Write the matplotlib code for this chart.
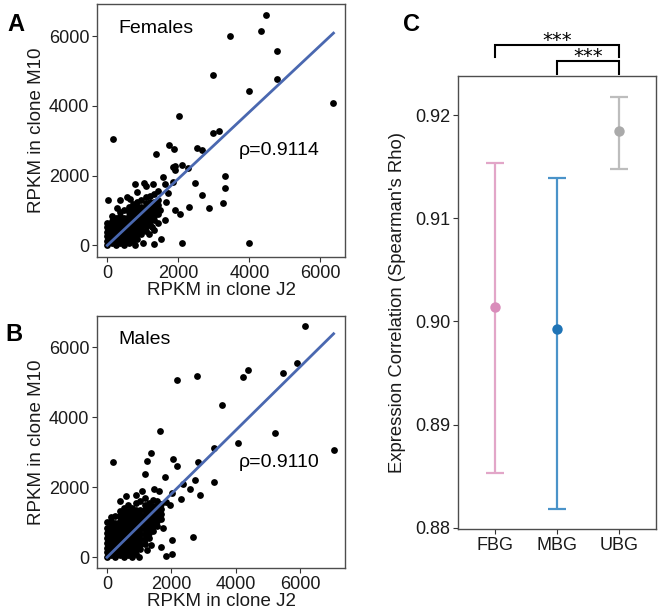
import numpy as np
import matplotlib
matplotlib.use("Agg")
import matplotlib.pyplot as plt

plt.rcParams["font.family"] = ["Liberation Sans", "DejaVu Sans"]

# --- Panel A: females, scattered genes (RPKM J2, RPKM M10) ---
fem_x = [4460, 3450, 4330, 4790, 4790, 3980, 2990, 2030, 150, 2990, 3150, 1370,
         1750, 1880, 2520, 2680, 1920, 2090, 1920, 2270, 2470, 3320, 3320, 2670,
         3270, 2860, 2300, 1920, 2050, 2090, 4000, 1520, 1310, 1010, 780, 1620,
         1270, 1470, 1320, 30, 360, 780, 1030, 1300, 1560, 1620, 1850, 1840, 850,
         640, 6370, 1100, 1700, 1650, 560, 280, 1180, 1420]
fem_y = [6600, 6010, 6150, 5560, 4760, 4430, 4870, 3710, 3060, 3210, 3270, 2620,
         2870, 2750, 2790, 2720, 2280, 2310, 2160, 2210, 1790, 1990, 1630, 1450,
         1220, 1060, 1090, 1010, 890, 80, 80, 190, 50, 80, 0, 740,
         530, 1000, 440, 1290, 1300, 1760, 1800, 1760, 1950, 1760, 1810, 2250, 1540,
         1320, 4080, 1700, 1500, 1250, 1380, 1080, 320, 640]
# dense core near the origin
fem_core_x = [0] * 6 + [120] * 7 + [240] * 7 + [360] * 8 + [480] * 8 + [600] * 9 \
    + [720] * 9 + [840] * 9 + [960] * 8 + [1080] * 8 + [1200] * 7 + [1320] * 6 \
    + [1440] * 5
fem_core_y = [0, 130, 260, 390, 520, 650,
              60, 190, 320, 450, 580, 710, 830,
              0, 130, 260, 390, 520, 650, 780,
              60, 190, 320, 450, 580, 710, 840, 960,
              0, 130, 260, 390, 520, 650, 780, 1000,
              60, 190, 320, 450, 580, 710, 840, 970, 1100,
              130, 260, 390, 520, 650, 780, 910, 1040, 1180,
              190, 320, 450, 580, 710, 840, 970, 1100, 1250,
              330, 460, 590, 720, 850, 980, 1110, 1300,
              420, 550, 680, 810, 940, 1070, 1200, 1380,
              590, 720, 850, 980, 1110, 1240, 1420,
              720, 850, 980, 1110, 1240, 1480,
              900, 1030, 1160, 1290, 1550]
fem_slope, fem_rho = 0.955, "ρ=0.9114"

# --- Panel B: males ---
mal_x = [6150, 5890, 5470, 4380, 4230, 2790, 2160, 3580, 5210, 4080, 3330, 1660,
         190, 1360, 1250, 2050, 2160, 2840, 2730, 2360, 3330, 2590, 2880, 2310,
         1190, 1810, 1840, 1970, 1450, 1620, 2020, 2670, 2030, 2030, 1830, 1670,
         1740, 1360, 910, 600, 7040, 1100, 1500, 400, 1250, 980]
mal_y = [6600, 5550, 5270, 5360, 5140, 5170, 5060, 4360, 3550, 3260, 3120, 3620,
         2710, 2980, 2760, 2810, 2620, 2720, 2210, 2090, 2150, 1960, 1780, 1670,
         2390, 2290, 1590, 1480, 1950, 1880, 1830, 570, 500, 100, 40, 290,
         830, 350, 1780, 1740, 3070, 1900, 1020, 1600, 200, 0]
mal_core_x = [0] * 8 + [130] * 9 + [260] * 9 + [390] * 10 + [520] * 11 + [650] * 11 \
    + [780] * 11 + [910] * 11 + [1040] * 10 + [1170] * 10 + [1300] * 8 \
    + [1430] * 7 + [1560] * 6 + [1690] * 4
mal_core_y = [0, 140, 280, 420, 560, 700, 840, 1000,
              60, 200, 340, 480, 620, 760, 900, 1040, 1150,
              0, 140, 280, 420, 560, 700, 840, 980, 1180,
              60, 200, 340, 480, 620, 760, 900, 1040, 1180, 1320,
              0, 140, 280, 420, 560, 700, 840, 980, 1120, 1260, 1420,
              60, 200, 340, 480, 620, 760, 900, 1040, 1180, 1320, 1480,
              0, 140, 280, 420, 560, 700, 840, 980, 1120, 1260, 1400,
              100, 240, 380, 520, 660, 800, 940, 1080, 1220, 1360, 1560,
              240, 380, 520, 660, 800, 940, 1080, 1220, 1360, 1600,
              380, 520, 660, 800, 940, 1080, 1220, 1360, 1500, 1680,
              560, 700, 840, 980, 1120, 1260, 1400, 1540,
              760, 900, 1040, 1180, 1320, 1460, 1640,
              900, 1040, 1180, 1320, 1460, 1600,
              1100, 1240, 1380, 1520]
mal_slope, mal_rho = 0.907, "ρ=0.9110"

# --- Panel C: Spearman rho per gene group ---
groups = ["FBG", "MBG", "UBG"]
rho_mean = [0.90139, 0.89925, 0.91845]
rho_low = [0.88530, 0.88181, 0.91474]
rho_high = [0.91538, 0.91393, 0.92177]
group_colors = ["#d98cba", "#1f74b6", "#aaaaaa"]
line_colors = ["#e2a6c8", "#4a93c9", "#bdbdbd"]
sig_pairs = [(0, 2), (1, 2)]
sig_text = ["***", "***"]

SPINE = "#4d4d4d"
TICKC = "#333333"

fig = plt.figure(figsize=(6.6, 6.12), dpi=100)


def scatter_panel(ax, xs, ys, cx, cy, slope, label, rho, xlim, ylim):
    allx = np.array(list(xs) + list(cx), dtype=float)
    ally = np.array(list(ys) + list(cy), dtype=float)
    ax.scatter(allx, ally, s=24, c="black", linewidths=0, zorder=2)
    xx = np.array([allx.min(), allx.max()])
    ax.plot(xx, slope * xx, color="#4a68b0", lw=2.0, zorder=3)
    ax.set_xlim(*xlim)
    ax.set_ylim(*ylim)
    ax.set_xticks([0, 2000, 4000, 6000])
    ax.set_yticks([0, 2000, 4000, 6000])
    ax.tick_params(labelsize=13, length=3.5, color=TICKC, labelcolor="#1a1a1a", pad=2)
    for sp in ax.spines.values():
        sp.set_color(SPINE)
        sp.set_linewidth(1.0)
    ax.set_xlabel("RPKM in clone J2", fontsize=13.5, labelpad=0, color="#1a1a1a")
    ax.set_ylabel("RPKM in clone M10", fontsize=13.5, labelpad=3, color="#1a1a1a")
    ax.text(0.085, 0.905, label, transform=ax.transAxes, fontsize=14,
            va="center", ha="left")
    ax.text(0.573, 0.42, rho, transform=ax.transAxes, fontsize=14,
            va="center", ha="left")


axA = fig.add_axes([0.147, 0.580, 0.376, 0.413])
scatter_panel(axA, fem_x, fem_y, fem_core_x, fem_core_y, fem_slope, "Females",
              fem_rho, (-290, 6700), (-335, 6910))

axB = fig.add_axes([0.147, 0.0714, 0.376, 0.4127])
scatter_panel(axB, mal_x, mal_y, mal_core_x, mal_core_y, mal_slope, "Males",
              mal_rho, (-311, 7400), (-314, 6900))

axC = fig.add_axes([0.6935, 0.1351, 0.3005, 0.7407])
pos = np.arange(1, len(groups) + 1)
for i in range(len(groups)):
    err = [[rho_mean[i] - rho_low[i]], [rho_high[i] - rho_mean[i]]]
    axC.errorbar(pos[i], rho_mean[i], yerr=err, fmt="none", ecolor=line_colors[i],
                 elinewidth=1.6, capsize=6.6, capthick=1.6, zorder=2)
    axC.plot(pos[i], rho_mean[i], "o", color=group_colors[i], ms=7.5, mew=0, zorder=3)
axC.set_xlim(0.4, 3.6)
axC.set_ylim(0.87985, 0.92378)
axC.set_xticks(pos)
axC.set_xticklabels(groups)
axC.set_yticks([0.88, 0.89, 0.90, 0.91, 0.92])
axC.set_yticklabels(["0.88", "0.89", "0.90", "0.91", "0.92"])
axC.tick_params(labelsize=13, length=3.5, color=TICKC, labelcolor="#1a1a1a", pad=2)
for sp in axC.spines.values():
    sp.set_color(SPINE)
    sp.set_linewidth(1.0)
axC.set_ylabel("Expression Correlation (Spearman's Rho)", fontsize=13.3,
               labelpad=6, color="#1a1a1a")

# significance brackets above the panel
bracket_top = [0.92678, 0.92523]
bracket_leg = [0.92565, 0.92397]
for (a, b), txt, top, leg in zip(sig_pairs, sig_text, bracket_top, bracket_leg):
    xa, xb = pos[a], pos[b]
    axC.plot([xa, xa, xb, xb], [leg, top, top, leg], color="black", lw=1.5,
             clip_on=False, solid_joinstyle="miter")
    axC.text((xa + xb) / 2, top + 0.0004, txt, ha="center", va="center",
             fontsize=14, clip_on=False, family="DejaVu Sans")

# panel letters
fig.text(7 / 660, 1 - 13 / 612, "A", fontsize=17, fontweight="bold", va="top")
fig.text(5 / 660, 1 - 323 / 612, "B", fontsize=17, fontweight="bold", va="top")
fig.text(403 / 660, 1 - 13 / 612, "C", fontsize=17, fontweight="bold", va="top")

fig.savefig("out.png", dpi=100)
